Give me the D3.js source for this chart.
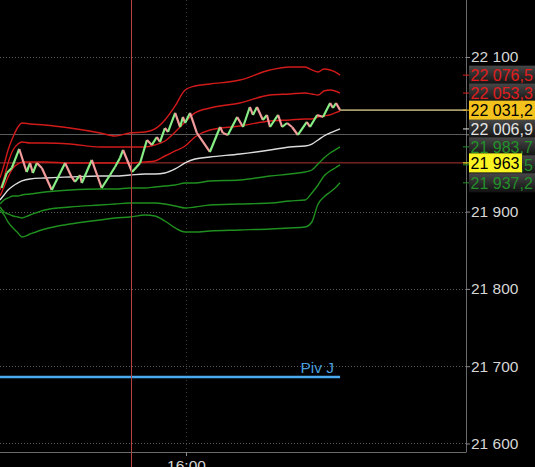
<!DOCTYPE html>
<html><head><meta charset="utf-8">
<script src="https://cdn.jsdelivr.net/npm/d3@7"></script>
<style>
html,body{margin:0;padding:0;background:#000;overflow:hidden}
svg{display:block}
text{font-family:"Liberation Sans",Arial,sans-serif}
</style></head><body>
<svg id="c" width="535" height="467"></svg>
<script>
// ---- data (time in minutes after 15:00, prices in index points) ----
const bandTimes = [0, 1.3, 2.6, 4.2, 5.8, 7.1, 9.7, 14.5, 22.6, 32.3, 37.1, 41.9, 46.8, 50, 53.2, 56.5, 59.7, 62.9, 67.7, 77.4, 87.1, 93.5, 98.4, 100.6, 102.6, 104.5, 106.5, 108.1, 109.7];
const upper3 = [21943.5, 21960.3, 21979.7, 21996.5, 22009.4, 22014.6, 22013.3, 22012.0, 22008.1, 22001.7, 21997.8, 22001.7, 22003.0, 22006.9, 22018.5, 22036.6, 22057.3, 22062.5, 22065.1, 22070.2, 22083.2, 22087.1, 22087.1, 22083.2, 22080.6, 22084.5, 22083.2, 22080.6, 22076.5];
const upper2 = [21927.9, 21943.5, 21962.9, 21979.7, 21987.4, 21990.0, 21988.7, 21988.7, 21987.4, 21983.6, 21983.6, 21983.6, 21983.6, 21986.2, 21991.3, 22003.0, 22015.9, 22027.6, 22034.0, 22040.5, 22050.8, 22052.1, 22053.4, 22052.1, 22050.8, 22056.0, 22057.3, 22056.0, 22053.3];
const upper1 = [21920.2, 21931.8, 21944.8, 21956.4, 21961.6, 21964.2, 21964.2, 21964.2, 21962.9, 21962.9, 21962.9, 21962.9, 21964.2, 21965.5, 21971.9, 21978.4, 21984.9, 21996.5, 22005.6, 22010.7, 22017.2, 22018.5, 22019.8, 22019.8, 22022.4, 22023.7, 22025.0, 22027.6, 22030.1];
const center = [21915.0, 21921.5, 21927.9, 21933.1, 21937.0, 21939.6, 21942.2, 21943.5, 21944.8, 21946.0, 21946.0, 21947.3, 21948.6, 21948.6, 21949.9, 21955.1, 21962.9, 21968.0, 21970.6, 21974.5, 21979.7, 21983.6, 21984.9, 21987.4, 21992.6, 21997.8, 22001.7, 22004.3, 22006.9];
const lower1 = [21909.8, 21915.0, 21917.6, 21920.2, 21920.2, 21921.5, 21922.8, 21925.3, 21927.9, 21929.2, 21929.2, 21930.5, 21930.5, 21931.8, 21933.1, 21934.4, 21937.0, 21937.0, 21939.6, 21940.9, 21946.0, 21948.6, 21951.2, 21953.8, 21961.6, 21969.3, 21975.8, 21979.7, 21983.7];
const lower2 = [21906.0, 21899.5, 21896.9, 21894.3, 21893.0, 21891.7, 21895.6, 21902.1, 21905.9, 21908.5, 21909.8, 21911.1, 21911.1, 21911.1, 21909.8, 21907.2, 21904.7, 21905.9, 21908.5, 21909.8, 21911.1, 21913.7, 21915.0, 21924.1, 21934.4, 21946.0, 21952.5, 21956.4, 21960.5];
const lower3 = [21902.1, 21895.6, 21886.5, 21878.8, 21872.3, 21867.1, 21871.0, 21877.5, 21883.9, 21889.1, 21891.7, 21893.0, 21895.6, 21894.3, 21887.8, 21878.8, 21873.6, 21873.6, 21874.9, 21876.2, 21877.5, 21878.8, 21880.1, 21886.5, 21909.8, 21918.9, 21925.3, 21930.5, 21937.2];

const priceTimes = [0.5, 2.2, 3.8, 6.2, 8.6, 9.7, 10.6, 11.9, 13.5, 16.7, 21.0, 23.1, 24.2, 25.8, 26.4, 29.6, 32.8, 35.5, 37.1, 38.7, 39.7, 42.6, 45.2, 47.4, 49.0, 50.6, 51.6, 53.2, 54.2, 56.5, 58.1, 59.0, 59.7, 61.3, 63.5, 67.7, 71.0, 71.9, 73.5, 76.5, 78.4, 80.6, 81.6, 82.9, 84.8, 86.1, 87.1, 89.7, 91.0, 92.6, 94.2, 96.1, 99.0, 100.0, 102.3, 104.2, 106.5, 107.4, 108.4, 109.7];
const priceValues = [21930.5, 21949.9, 21956.4, 21981.0, 21951.2, 21962.9, 21949.9, 21962.9, 21956.4, 21927.9, 21962.9, 21944.8, 21938.3, 21947.3, 21937.0, 21966.8, 21930.5, 21947.3, 21957.7, 21969.3, 21979.7, 21951.2, 21962.9, 21992.6, 21986.2, 21996.5, 21990.0, 22008.1, 22003.0, 22027.6, 22009.4, 22022.4, 22014.6, 22027.6, 22001.7, 21977.1, 22009.4, 22001.7, 21999.1, 22022.4, 22009.4, 22035.3, 22025.0, 22035.3, 22018.5, 22025.0, 22009.4, 22025.0, 22009.4, 22014.6, 22009.4, 21999.1, 22015.9, 22009.4, 22025.0, 22022.4, 22040.5, 22034.0, 22040.5, 22031.2];

const yTicks = [21600, 21700, 21800, 21900, 22000, 22100];
const timeTicks = [60];
const timeTickLabels = ["16:00"];
const lastPrice = 22031.2;
const refLevel = 21963;
const pivotLevel = 21686;
const pivotLabel = "Piv J";
const crosshairTime = 42.1;

// ---- layout ----
const W = 535, H = 467, plotR = 466, plotB = 452;
const x = d3.scaleLinear().domain([0, 150]).range([0, 465]);
const y = d3.scaleLinear().domain([21589, 22173.7]).range([plotB, 0]);
const loc = d3.formatLocale({decimal: ",", thousands: " ", grouping: [3], currency: ["", ""]});
const f0 = loc.format(",.0f"), f1 = loc.format(",.1f");

const svg = d3.select("#c");
svg.append("rect").attr("width", W).attr("height", H).attr("fill", "#000");

const defs = svg.append("defs");
const g = defs.append("linearGradient").attr("id", "dk").attr("x1", 0).attr("y1", 0).attr("x2", 0).attr("y2", 1);
g.append("stop").attr("offset", "0%").attr("stop-color", "#474747");
g.append("stop").attr("offset", "100%").attr("stop-color", "#121212");

const clip = defs.append("clipPath").attr("id", "pc");
clip.append("rect").attr("x", 0).attr("y", 0).attr("width", plotR).attr("height", plotB);

// grid
const grid = svg.append("g");
grid.selectAll("line.h").data(yTicks.filter(v => v !== 22000)).join("line")
  .attr("x1", 0).attr("x2", plotR).attr("y1", d => Math.round(y(d)) + 0.5).attr("y2", d => Math.round(y(d)) + 0.5)
  .attr("stroke", "#5a5a5a").attr("stroke-dasharray", "1,2");
grid.append("line").attr("x1", 0).attr("x2", plotR)
  .attr("y1", Math.round(y(22000)) + 0.5).attr("y2", Math.round(y(22000)) + 0.5)
  .attr("stroke", "#5c5c5c");
grid.selectAll("line.v").data(timeTicks).join("line")
  .attr("x1", d => Math.round(x(d)) + 0.5).attr("x2", d => Math.round(x(d)) + 0.5)
  .attr("y1", 0).attr("y2", plotB)
  .attr("stroke", "#3a3a3a").attr("stroke-dasharray", "1,3");

const plot = svg.append("g").attr("clip-path", "url(#pc)");

// bands
const line = d3.line().x((d, i) => x(bandTimes[i])).y(d => y(d)).curve(d3.curveMonotoneX);
const bands = [
  {d: upper3, c: "#d11a1a"}, {d: upper2, c: "#d11a1a"}, {d: upper1, c: "#d11a1a"},
  {d: center, c: "#dcdcdc"},
  {d: lower1, c: "#1f8f1f"}, {d: lower2, c: "#1f8f1f"}, {d: lower3, c: "#1f8f1f"}
];

// reference horizontal (red)
plot.append("line").attr("x1", 0).attr("x2", plotR)
  .attr("y1", y(refLevel)).attr("y2", y(refLevel))
  .attr("stroke", "#b03434").attr("stroke-width", 1);

plot.selectAll("path.band").data(bands).join("path")
  .attr("d", b => line(b.d)).attr("fill", "none")
  .attr("stroke", b => b.c).attr("stroke-width", 1.4);

// price zigzag
const segs = d3.range(priceTimes.length - 1).map(i => ({
  x1: x(priceTimes[i]), y1: y(priceValues[i]), x2: x(priceTimes[i + 1]), y2: y(priceValues[i + 1]),
  up: priceValues[i + 1] >= priceValues[i]
}));
plot.selectAll("line.p").data(segs).join("line")
  .attr("x1", d => d.x1).attr("y1", d => d.y1).attr("x2", d => d.x2).attr("y2", d => d.y2)
  .attr("stroke", d => d.up ? "#86ee84" : "#f29c9c").attr("stroke-width", 2.2)
  .attr("stroke-linecap", "butt");

// last price line
svg.append("line").attr("x1", x(priceTimes[priceTimes.length - 1])).attr("x2", plotR)
  .attr("y1", y(lastPrice)).attr("y2", y(lastPrice))
  .attr("stroke", "#a99c6c").attr("stroke-width", 1.6);

// pivot line
plot.append("line").attr("x1", 0).attr("x2", x(bandTimes[bandTimes.length - 1]))
  .attr("y1", y(pivotLevel)).attr("y2", y(pivotLevel))
  .attr("stroke", "#4aaaf0").attr("stroke-width", 2.6);
svg.append("text").attr("x", x(bandTimes[bandTimes.length - 1]) - 6).attr("y", y(pivotLevel) - 4)
  .attr("text-anchor", "end").attr("fill", "#4a9fdc").attr("font-size", 15.5).text(pivotLabel);

// crosshair
svg.append("line").attr("x1", Math.round(x(crosshairTime)) + 0.5).attr("x2", Math.round(x(crosshairTime)) + 0.5)
  .attr("y1", 0).attr("y2", H).attr("stroke", "#b8403f").attr("stroke-width", 1);

// axes frames
svg.append("line").attr("x1", plotR + 0.5).attr("x2", plotR + 0.5).attr("y1", 0).attr("y2", plotB)
  .attr("stroke", "#6a6a6a");
svg.append("line").attr("x1", 0).attr("x2", plotR + 0.5).attr("y1", plotB + 0.5).attr("y2", plotB + 0.5)
  .attr("stroke", "#6a6a6a");

// right axis
const ay = svg.append("g").attr("transform", `translate(${plotR},0)`)
  .call(d3.axisRight(y).tickValues(yTicks).tickSize(4).tickPadding(1).tickFormat(f0));
ay.select(".domain").remove();
ay.selectAll("line").attr("stroke", "#8a8a8a");
ay.selectAll("text").attr("fill", "#d6d6d6").attr("font-size", 15.5)
  .attr("font-family", "'Liberation Sans',Arial,sans-serif");

// bottom axis
const ax = svg.append("g").attr("transform", `translate(0,${plotB})`)
  .call(d3.axisBottom(x).tickValues(timeTicks).tickSize(4).tickPadding(4)
    .tickFormat((d, i) => timeTickLabels[i]));
ax.select(".domain").remove();
ax.selectAll("line").attr("stroke", "#8a8a8a");
ax.selectAll("text").attr("fill", "#d6d6d6").attr("font-size", 15.5)
  .attr("font-family", "'Liberation Sans',Arial,sans-serif");

// right price labels
const last = a => a[a.length - 1];
const tags = [
  {v: last(upper3), txt: f1(last(upper3)), col: "#e01e1e", box: "url(#dk)", w: 68},
  {v: last(upper2), txt: f1(last(upper2)), col: "#e01e1e", box: "url(#dk)", w: 68},
  {v: last(center), txt: f1(last(center)), col: "#e4e4e4", box: "url(#dk)", w: 68},
  {v: last(lower1), txt: f1(last(lower1)), col: "#23902a", box: "url(#dk)", w: 68},
  {v: last(lower2), txt: f1(last(lower2)), col: "#23902a", box: "url(#dk)", w: 68},
  {v: last(lower3), txt: f1(last(lower3)), col: "#23902a", box: "url(#dk)", w: 68},
  {v: lastPrice, txt: f1(lastPrice), col: "#000", box: "#f3c21d", w: 68},
  {v: refLevel, txt: f0(refLevel), col: "#000", box: "#fbf423", w: 53}
];
const tg = svg.append("g");
tags.forEach(t => {
  const cy = y(t.v);
  tg.append("line").attr("x1", plotR - 3).attr("x2", plotR + 3).attr("y1", cy).attr("y2", cy)
    .attr("stroke", t.box.startsWith("#") ? t.box : t.col);
  tg.append("rect").attr("x", 469).attr("y", cy - 9.5).attr("width", t.w).attr("height", 19)
    .attr("fill", t.box);
  tg.append("text").attr("x", 470.5).attr("y", cy).attr("dy", "0.36em")
    .attr("fill", t.col).attr("font-size", 16).text(t.txt);
});
</script>
</body></html>
